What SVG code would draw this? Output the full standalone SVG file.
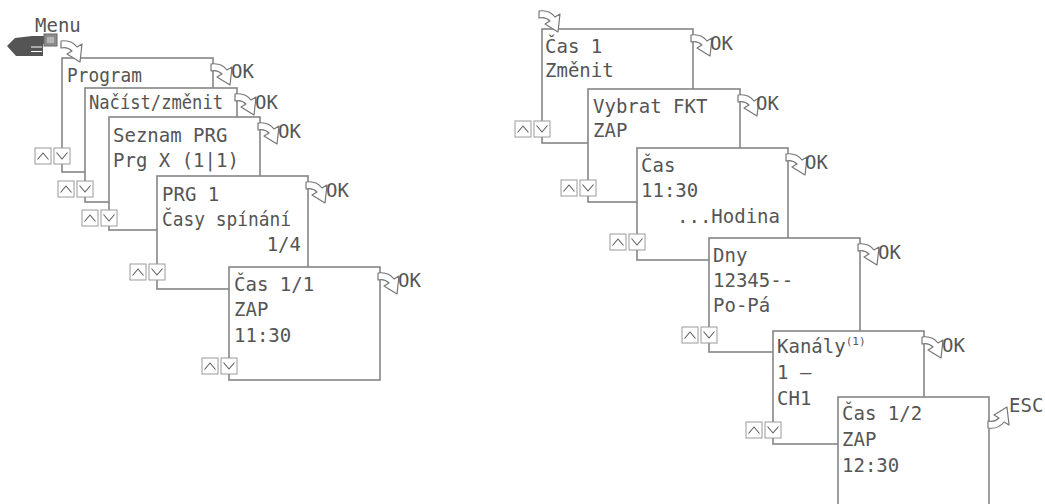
<svg xmlns="http://www.w3.org/2000/svg" xmlns:xlink="http://www.w3.org/1999/xlink" width="1045" height="504" viewBox="0 0 1045 504">
<style>
.box{fill:#fff;stroke:#858585;stroke-width:1.6}
.t{font-family:"DejaVu Sans Mono","Liberation Mono",monospace;font-size:19px;fill:#555}
.btn{fill:#fff;stroke:#9a9a9a;stroke-width:1}
.chev{fill:none;stroke:#5e5e5e;stroke-width:1.1}
.arr{fill:#fff;stroke:#777;stroke-width:1.2;stroke-linejoin:round}
</style>
<defs>
<path id="arrow" class="arr" d="M0,-3 C7,-4 13,-1 16,3 L21,0 L19,18 L6,10 L11,7 C8,4 4,3 0,4 Z"/>
<g id="up"><rect class="btn" x="0" y="0" width="16" height="16"/><path class="chev" d="M2.5,11.5 L8,5 L13.5,11.5"/></g>
<g id="dn"><rect class="btn" x="0" y="0" width="16" height="16"/><path class="chev" d="M2.5,4.5 L8,11 L13.5,4.5"/></g>
</defs>
<rect width="1045" height="504" fill="#fff"/>

<g id="menu">
<text class="t" x="35" y="32">Menu</text>
<path d="M7,46 L15,38 L32,36 L48,36 L48,43 L43,44 L43,56 L16,56 Z" fill="#555"/>
<path d="M31,47 L42,47 M31,51.5 L42,51.5" stroke="#fff" stroke-width="1"/>
<rect x="44" y="34" width="13" height="12" fill="#8c8c8c" stroke="#666" stroke-width="1"/>
<rect x="47" y="37" width="7" height="6" fill="#b5b5b5"/>
</g>

<g id="box1">
<rect class="box" x="62" y="58" width="151" height="114"/>
<text class="t" x="67" y="82" textLength="75" lengthAdjust="spacingAndGlyphs">Program</text>
<use xlink:href="#up" x="35" y="148"/><use xlink:href="#dn" x="54" y="148"/>
</g>
<g id="box2">
<rect class="box" x="85" y="88" width="152" height="114"/>
<text class="t" x="89" y="109" textLength="134" lengthAdjust="spacingAndGlyphs">Načíst/změnit</text>
<use xlink:href="#up" x="58" y="181"/><use xlink:href="#dn" x="77" y="181"/>
</g>
<g id="box3">
<rect class="box" x="109" y="117" width="151" height="113"/>
<text class="t" x="113" y="142">Seznam PRG</text>
<text class="t" x="113" y="167">Prg X (1|1)</text>
<use xlink:href="#up" x="82" y="210"/><use xlink:href="#dn" x="101" y="210"/>
</g>
<g id="box4">
<rect class="box" x="157" y="176" width="151" height="113"/>
<text class="t" x="162" y="201">PRG 1</text>
<text class="t" x="162" y="226" textLength="129" lengthAdjust="spacingAndGlyphs">Časy spínání</text>
<text class="t" x="301" y="251" text-anchor="end">1/4</text>
<use xlink:href="#up" x="130" y="264"/><use xlink:href="#dn" x="149" y="264"/>
</g>
<g id="box5">
<rect class="box" x="229" y="267" width="151" height="113"/>
<text class="t" x="234" y="291">Čas 1/1</text>
<text class="t" x="234" y="316">ZAP</text>
<text class="t" x="234" y="342">11:30</text>
<use xlink:href="#up" x="202" y="358"/><use xlink:href="#dn" x="221" y="358"/>
</g>

<g id="boxA">
<rect class="box" x="542" y="29" width="151" height="114"/>
<text class="t" x="545" y="53">Čas 1</text>
<text class="t" x="545" y="77">Změnit</text>
<use xlink:href="#up" x="515" y="121"/><use xlink:href="#dn" x="534" y="121"/>
</g>
<g id="boxB">
<rect class="box" x="588" y="89" width="152" height="113"/>
<text class="t" x="593" y="113">Vybrat FKT</text>
<text class="t" x="593" y="137">ZAP</text>
<use xlink:href="#up" x="561" y="180"/><use xlink:href="#dn" x="580" y="180"/>
</g>
<g id="boxC">
<rect class="box" x="637" y="148" width="151" height="112"/>
<text class="t" x="641" y="172">Čas</text>
<text class="t" x="641" y="197">11:30</text>
<text class="t" x="677" y="223">...Hodina</text>
<use xlink:href="#up" x="610" y="234"/><use xlink:href="#dn" x="629" y="234"/>
</g>
<g id="boxD">
<rect class="box" x="709" y="238" width="151" height="114"/>
<text class="t" x="713" y="262">Dny</text>
<text class="t" x="713" y="287">12345--</text>
<text class="t" x="713" y="312">Po-Pá</text>
<use xlink:href="#up" x="682" y="327"/><use xlink:href="#dn" x="701" y="327"/>
</g>
<g id="boxE">
<rect class="box" x="773" y="331" width="151" height="113"/>
<text class="t" x="777" y="353">Kanály<tspan font-size="11" dy="-8">(1)</tspan></text>
<text class="t" x="777" y="379">1 —</text>
<text class="t" x="777" y="405">CH1</text>
<use xlink:href="#up" x="746" y="422"/><use xlink:href="#dn" x="765" y="422"/>
</g>
<g id="boxF">
<rect class="box" x="838" y="397" width="151" height="120"/>
<text class="t" x="842" y="420">Čas 1/2</text>
<text class="t" x="842" y="446">ZAP</text>
<text class="t" x="842" y="472">12:30</text>
</g>

<g id="connectors">
<use xlink:href="#arrow" transform="translate(61,44)"/>
<use xlink:href="#arrow" transform="translate(539,14)"/>
<use xlink:href="#arrow" transform="translate(211,67)"/>
<use xlink:href="#arrow" transform="translate(235,97)"/>
<use xlink:href="#arrow" transform="translate(258,126)"/>
<use xlink:href="#arrow" transform="translate(306,185)"/>
<use xlink:href="#arrow" transform="translate(378,276)"/>
<use xlink:href="#arrow" transform="translate(691,38)"/>
<use xlink:href="#arrow" transform="translate(738,98)"/>
<use xlink:href="#arrow" transform="translate(786,157)"/>
<use xlink:href="#arrow" transform="translate(858,247)"/>
<use xlink:href="#arrow" transform="translate(922,340)"/>
<use xlink:href="#arrow" transform="translate(988,425) scale(1,-1)"/>
<text class="t" x="231" y="78">OK</text>
<text class="t" x="255" y="109">OK</text>
<text class="t" x="278" y="138">OK</text>
<text class="t" x="326" y="197">OK</text>
<text class="t" x="398" y="287">OK</text>
<text class="t" x="710" y="50">OK</text>
<text class="t" x="756" y="110">OK</text>
<text class="t" x="805" y="169">OK</text>
<text class="t" x="878" y="259">OK</text>
<text class="t" x="942" y="352">OK</text>
<text class="t" x="1009" y="412">ESC</text>
</g>
</svg>
